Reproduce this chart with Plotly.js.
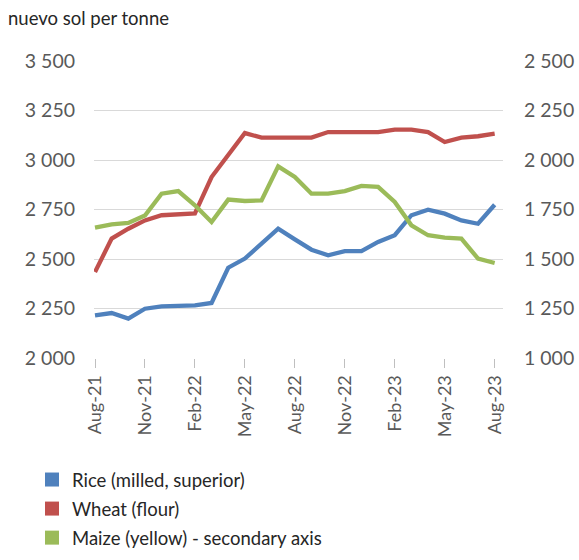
<!DOCTYPE html>
<html>
<head>
<meta charset="utf-8">
<script src="https://cdn.plot.ly/plotly-3.0.1.min.js"></script>
<style>html,body{margin:0;padding:0;background:#fff;}#chart{width:579px;height:560px;}</style>
</head>
<body>
<div id="chart"></div>
<script>
const months = ['Aug-21','Sep-21','Oct-21','Nov-21','Dec-21','Jan-22','Feb-22','Mar-22','Apr-22','May-22','Jun-22','Jul-22','Aug-22','Sep-22','Oct-22','Nov-22','Dec-22','Jan-23','Feb-23','Mar-23','Apr-23','May-23','Jun-23','Jul-23','Aug-23'];
const tickMonths = ['Aug-21','Nov-21','Feb-22','May-22','Aug-22','Nov-22','Feb-23','May-23','Aug-23'];
const rice = [2215, 2227, 2199, 2249, 2261, 2266, 2266, 2278, 2456, 2502, 2577, 2653, 2599, 2547, 2519, 2540, 2540, 2586, 2620, 2721, 2749, 2729, 2695, 2678, 2774];
const wheat = [2434, 2603, 2653, 2695, 2721, 2726, 2730, 2914, 3024, 3136, 3113, 3113, 3113, 3113, 3141, 3141, 3141, 3141, 3153, 3153, 3141, 3091, 3113, 3120, 3133];
const maize = [1658, 1675, 1682, 1720, 1830, 1843, 1771, 1687, 1800, 1793, 1796, 1968, 1914, 1830, 1830, 1843, 1869, 1864, 1788, 1670, 1620, 1608, 1603, 1502, 1480];
const names = ['Rice (milled, superior)', 'Wheat (flour)', 'Maize (yellow) - secondary axis'];
const colors = ['#4F81BD', '#C0504D', '#9BBB59'];

const font = 'Lato, "Open Sans", sans-serif';
const lineTraces = [
  {x: months, y: rice, yaxis: 'y', color: colors[0]},
  {x: months, y: wheat, yaxis: 'y', color: colors[1]},
  {x: months, y: maize, yaxis: 'y2', color: colors[2]}
].map(t => ({type: 'scatter', mode: 'lines', x: t.x, y: t.y, yaxis: t.yaxis,
  line: {color: t.color, width: 4.3}, showlegend: false, hoverinfo: 'skip'}));

const legendTraces = names.map((n, i) => ({type: 'scatter', mode: 'markers', x: [null], y: [null],
  name: n, legendgroup: 'g' + i, marker: {symbol: 'square', size: 14, color: colors[i]}, showlegend: true}));

const layout = {
  width: 579, height: 560,
  margin: {l: 94, r: 76, t: 61, b: 202, autoexpand: false},
  paper_bgcolor: '#fff', plot_bgcolor: '#fff',
  separators: '. ',
  font: {family: font, color: '#595959', size: 18},
  title: {text: 'nuevo sol per tonne', x: 8/579, xref: 'container', xanchor: 'left',
    y: 1 - 19/560, yref: 'container', yanchor: 'middle', font: {family: font, size: 18.5, color: '#262626'}},
  xaxis: {type: 'category', range: [-0.06, 24.5], tickvals: tickMonths, ticktext: tickMonths,
    tickangle: -90, ticks: 'outside', ticklen: 9, tickcolor: '#bfbfbf', tickwidth: 1, automargin: false,
    showgrid: false, zeroline: false, showline: false, tickfont: {size: 18, color: '#595959'}},
  yaxis: {range: [2000, 3500], dtick: 250, tickformat: ',d', gridcolor: '#d9d9d9', gridwidth: 1, automargin: false,
    zeroline: false, showline: false, ticks: '', ticklabelstandoff: 18, tickfont: {size: 19.5, color: '#595959'}},
  yaxis2: {range: [1000, 2500], dtick: 250, tickformat: ',d', overlaying: 'y', side: 'right', automargin: false,
    showgrid: false, zeroline: false, showline: false, ticks: '', ticklabelstandoff: 20, tickfont: {size: 19.5, color: '#595959'}},
  legend: {x: 32/579, xref: 'container', xanchor: 'left', y: 1 - 461/560, yref: 'container', yanchor: 'top', orientation: 'v',
    tracegroupgap: 2, font: {size: 18.5, color: '#262626'}, bgcolor: 'rgba(0,0,0,0)'},
  showlegend: true
};

Plotly.newPlot('chart', lineTraces.concat(legendTraces), layout, {displayModeBar: false, staticPlot: true});
</script>
</body>
</html>
